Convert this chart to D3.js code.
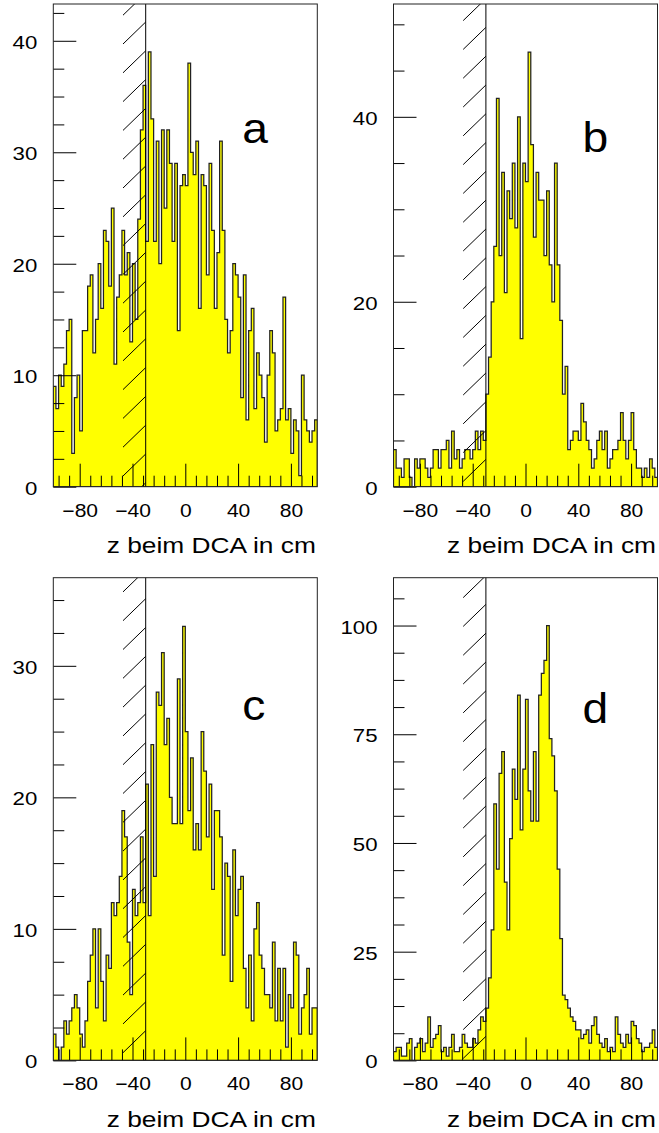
<!DOCTYPE html>
<html>
<head>
<meta charset="utf-8">
<title>z beim DCA</title>
<script src="https://cdn.jsdelivr.net/npm/d3@7"></script>
<style>
    body { margin: 0; background: #fff; }
    svg text { font-family: "Liberation Sans", Arial, sans-serif; fill: #000; }
    .axis path.domain { display: none; }
    .axis line { stroke: #000; }
</style>
</head>
<body>
<svg id="chart" width="659" height="1133"></svg>
<script>
// bin contents, 100 bins of 2 cm from -100 to 100
var countsA = [9,7,10,9,11,14,15,3,8,10,
    5,14,14,18,19,12,15,20,16,23,
    22,18,25,11,17,19,23,19,21,13,
    20,15,24,32,36,22,39,33,22,31,
    20,32,25,32,29,22,29,14,27,28,
    27,38,30,28,31,16,28,27,19,29,
    23,16,21,31,23,15,12,14,20,19,
    17,8,19,6,14,16,7,12,10,8,
    4,10,14,12,5,6,7,17,6,7,
    3,6,5,1,10,6,5,4,5,6];
var countsB = [4,2,2,1,3,3,1,0,3,2,
    3,3,2,1,2,4,4,2,4,4,
    5,2,6,3,4,2,3,4,4,3,
    4,6,4,6,5,10,14,20,26,42,
    25,34,21,32,29,35,28,40,16,35,
    33,47,37,27,34,31,31,25,32,24,
    20,35,24,18,10,13,4,5,6,6,
    5,9,7,5,4,2,3,5,6,4,
    6,2,3,4,4,5,8,5,3,5,
    8,4,2,2,1,2,1,3,2,1];
var countsC = [2,1,0,1,3,2,3,4,5,4,
    2,1,3,6,8,10,4,10,6,3,
    8,7,12,11,12,14,19,17,9,5,
    13,11,12,17,12,21,11,24,14,28,
    27,31,24,26,20,18,18,29,18,33,
    25,19,23,16,18,16,25,22,17,21,
    13,19,19,17,8,15,14,6,16,11,
    13,14,7,4,8,3,10,12,8,7,
    5,5,4,9,3,7,3,7,1,5,
    4,9,8,2,4,5,7,2,4,4];
var countsD = [2,3,3,1,1,4,5,0,3,4,
    5,2,4,10,3,5,6,8,2,3,
    1,3,6,2,2,3,6,4,3,3,
    5,4,7,10,9,12,19,30,59,44,
    66,71,41,30,51,67,60,84,53,67,
    83,62,55,71,55,84,89,92,100,74,
    70,62,44,28,15,14,12,10,9,7,
    7,5,6,7,4,8,10,6,4,3,
    5,2,3,2,10,6,4,3,6,4,
    9,8,5,4,2,3,3,4,7,3];

var xRange = [-100, 100];
var binWidth = 2;
var cutZ = -30;
var xMajor = [-80, -40, 0, 40, 80];
var xMinor = [-96, -88, -72, -64, -56, -48, -32, -24, -16, -8, 8, 16, 24, 32, 48, 56, 64, 72, 88, 96];
var xTitle = "z beim DCA in cm";
var letters = ["a", "b", "c", "d"];
var yMax = [43.3, 52.2, 36.7, 111];
var yMajor = [[0, 10, 20, 30, 40], [0, 20, 40], [0, 10, 20, 30], [0, 25, 50, 75, 100]];
var yMinorStep = [2.5, 5, 2.5, 6.25];

var W = 264, H = 482.7;
var panels = [
    {counts: countsA, left: 53.3, top: 4, hatchPhase: 3.9, letterY: 139},
    {counts: countsB, left: 393.5, top: 4, hatchPhase: 27.3, letterY: 147.5},
    {counts: countsC, left: 53.3, top: 577.7, hatchPhase: 0.9, letterY: 142.5},
    {counts: countsD, left: 393.5, top: 577.7, hatchPhase: 24, letterY: 145.5}
];

var svg = d3.select("#chart");
var SX = 1.17; // the glyphs are a bit wider than normal

function drawPanel(p, k) {
    var x = d3.scaleLinear().domain(xRange).range([0, W]);
    var y = d3.scaleLinear().domain([0, yMax[k]]).range([H, 0]);

    var g = svg.append("g").attr("transform", "translate(" + p.left + "," + p.top + ")");

    g.append("clipPath").attr("id", "clip" + k)
        .append("rect").attr("width", W).attr("height", H);

    var pts = p.counts.map(function(c, i) { return [xRange[0] + i * binWidth, c]; });
    pts.push([xRange[1], p.counts[p.counts.length - 1]]);

    var area = d3.area()
        .x(function(d) { return x(d[0]); })
        .y0(y(0))
        .y1(function(d) { return y(d[1]); })
        .curve(d3.curveStepAfter);

    g.append("path")
        .datum(pts)
        .attr("clip-path", "url(#clip" + k + ")")
        .attr("d", area)
        .attr("fill", "#ffff00")
        .attr("stroke", "#222")
        .attr("stroke-width", 1.25);

    // exclusion line with hatches on the left side
    var xc = x(cutZ);
    var hatch = [];
    for (var yy = H - p.hatchPhase + 28.8; yy > -30; yy -= 28.8) hatch.push(yy);
    var hg = g.append("g").attr("clip-path", "url(#clip" + k + ")");
    hg.selectAll("line.hatch").data(hatch).enter().append("line")
        .attr("class", "hatch")
        .attr("x1", xc).attr("y1", function(d) { return d; })
        .attr("x2", xc - 22.7).attr("y2", function(d) { return d + 22; })
        .attr("stroke", "#000").attr("stroke-width", 1);
    g.append("line")
        .attr("x1", xc).attr("x2", xc).attr("y1", 0).attr("y2", H)
        .attr("stroke", "#000").attr("stroke-width", 1);

    // y axis, ticks inside
    var yMinor = d3.range(0, yMax[k], yMinorStep[k]).filter(function(v) {
        return yMajor[k].indexOf(v) < 0;
    });
    g.append("g").attr("class", "axis")
        .call(d3.axisLeft(y).tickValues(yMinor).tickSizeInner(-11).tickSizeOuter(0).tickFormat(""));
    var ya = g.append("g").attr("class", "axis")
        .call(d3.axisLeft(y).tickValues(yMajor[k]).tickSizeInner(-23).tickSizeOuter(0));
    ya.selectAll("text")
        .attr("x", null).attr("dy", null)
        .attr("transform", "translate(-16,7.5) scale(" + SX + ",1)")
        .style("font-size", "19px");

    // x axis, ticks inside
    g.append("g").attr("class", "axis").attr("transform", "translate(0," + H + ")")
        .call(d3.axisBottom(x).tickValues(xMinor).tickSizeInner(-11).tickSizeOuter(0).tickFormat(""));
    var xa = g.append("g").attr("class", "axis").attr("transform", "translate(0," + H + ")")
        .call(d3.axisBottom(x).tickValues(xMajor).tickSizeInner(-23).tickSizeOuter(0));
    xa.selectAll("text")
        .attr("y", null).attr("dy", null)
        .attr("transform", "translate(0,30) scale(" + SX + ",1)")
        .style("font-size", "18px");
    ya.selectAll("text").attr("fill", "#000");
    xa.selectAll("text").attr("fill", "#000");

    g.append("rect")
        .attr("width", W).attr("height", H)
        .attr("fill", "none").attr("stroke", "#222").attr("stroke-width", 1);

    g.append("text")
        .attr("transform", "translate(" + (W - 1.5) + "," + (H + 66.5) + ") scale(" + SX + ",1)")
        .attr("text-anchor", "end")
        .style("font-size", "22.5px")
        .text(xTitle);

    g.append("text")
        .attr("transform", "translate(189," + p.letterY + ") scale(1.1,1)")
        .style("font-size", "42px")
        .text(letters[k]);
}

panels.forEach(drawPanel);
</script>
</body>
</html>
